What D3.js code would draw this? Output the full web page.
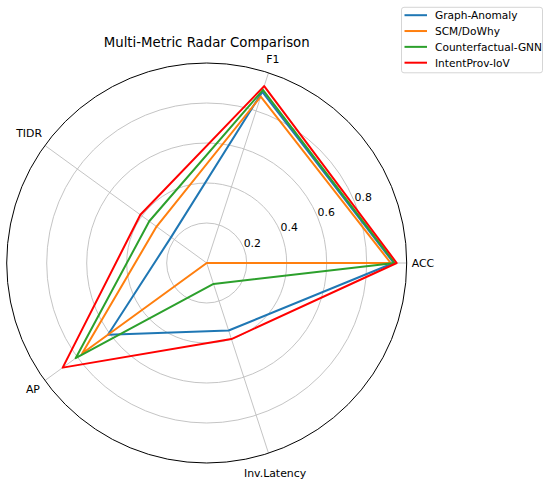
<!DOCTYPE html>
<html>
<head>
<meta charset="utf-8">
<script src="https://cdn.jsdelivr.net/npm/d3@7"></script>
<style>
  html, body { margin: 0; padding: 0; background: #fff; }
  svg { display: block; font-family: "DejaVu Sans", sans-serif; }
</style>
</head>
<body>
<div id="chart"></div>
<script>
const categories = ["ACC", "F1", "TIDR", "AP", "Inv.Latency"];
const seriesNames = ["Graph-Anomaly", "SCM/DoWhy", "Counterfactual-GNN", "IntentProv-IoV"];
const graphAnomaly = [0.935, 0.90, 0.22, 0.61, 0.355];
const scmDoWhy = [0.92, 0.875, 0.31, 0.77, 0.0];
const counterfactualGNN = [0.94, 0.91, 0.355, 0.81, 0.11];
const intentProv = [0.95, 0.93, 0.41, 0.89, 0.40];
const radialTicks = [0.2, 0.4, 0.6, 0.8];
const colors = ["#1f77b4", "#ff7f0e", "#2ca02c", "#ff0000"];
const title = "Multi-Metric Radar Comparison";

const W = 550, H = 480;
const cx = 206.7, cy = 263, R = 200;
const svg = d3.select("#chart").append("svg").attr("width", W).attr("height", H);

const r = d3.scaleLinear().domain([0, 1]).range([0, R]);
const angle = d3.scaleLinear().domain([0, categories.length]).range([0, 2 * Math.PI]);
const px = (a, v) => cx + r(v) * Math.cos(a);
const py = (a, v) => cy - r(v) * Math.sin(a);

const g = svg.append("g");

g.selectAll("circle.grid").data(radialTicks).enter().append("circle")
  .attr("cx", cx).attr("cy", cy).attr("r", d => r(d))
  .attr("fill", "none").attr("stroke", "#bdbdbd").attr("stroke-width", 0.9);

g.selectAll("line.spoke").data(categories).enter().append("line")
  .attr("x1", cx).attr("y1", cy)
  .attr("x2", (d, i) => px(angle(i), 1)).attr("y2", (d, i) => py(angle(i), 1))
  .attr("stroke", "#bdbdbd").attr("stroke-width", 0.9);

g.append("circle").attr("cx", cx).attr("cy", cy).attr("r", r(1))
  .attr("fill", "none").attr("stroke", "#000").attr("stroke-width", 1);

const rlAngle = 22.5 * Math.PI / 180;
g.selectAll("text.rl").data(radialTicks).enter().append("text")
  .attr("x", d => px(rlAngle, d))
  .attr("y", d => py(rlAngle, d) - 1)
  .attr("font-size", 10.9).attr("fill", "#000")
  .text(d => d3.format(".1f")(d));

const fs = 10.9, pad = 5, h = 14;
const tmp = svg.append("text").attr("font-size", fs);
categories.forEach((c, i) => {
  const a = angle(i);
  tmp.text(c);
  const w = tmp.node().getComputedTextLength();
  const half = Math.abs(Math.cos(a)) * w / 2 + Math.abs(Math.sin(a)) * h / 2;
  const rr = R + pad + half;
  g.append("text")
    .attr("x", cx + rr * Math.cos(a))
    .attr("y", cy - rr * Math.sin(a))
    .attr("text-anchor", "middle")
    .attr("dominant-baseline", "central")
    .attr("font-size", fs).attr("fill", "#000")
    .text(c);
});
tmp.remove();

const allSeries = [graphAnomaly, scmDoWhy, counterfactualGNN, intentProv];
const line = d3.lineRadial()
  .angle((d, i) => Math.PI / 2 - angle(i))
  .radius(d => r(d))
  .curve(d3.curveLinearClosed);
allSeries.forEach((vals, k) => {
  g.append("path")
    .attr("transform", `translate(${cx},${cy})`)
    .attr("d", line(vals))
    .attr("fill", "none")
    .attr("stroke", colors[k])
    .attr("stroke-width", 2)
    .attr("stroke-linejoin", "round");
});

svg.append("text").attr("x", cx).attr("y", 46.5)
  .attr("text-anchor", "middle").attr("font-size", 13.3).attr("fill", "#000")
  .text(title);

const lg = svg.append("g");
lg.append("rect").attr("x", 401.5).attr("y", 7.3).attr("width", 141).attr("height", 65.5)
  .attr("rx", 2.5).attr("fill", "#fff").attr("fill-opacity", 0.8)
  .attr("stroke", "#d0d0d0").attr("stroke-width", 0.9);
const ly = d3.scaleLinear().domain([0, 3]).range([15.2, 62.7]);
seriesNames.forEach((s, k) => {
  lg.append("line").attr("x1", 404.5).attr("x2", 427).attr("y1", ly(k)).attr("y2", ly(k))
    .attr("stroke", colors[k]).attr("stroke-width", 2);
  lg.append("text").attr("x", 435).attr("y", ly(k)).attr("dominant-baseline", "central")
    .attr("font-size", 10.6).attr("fill", "#000").text(s);
});
</script>
</body>
</html>
